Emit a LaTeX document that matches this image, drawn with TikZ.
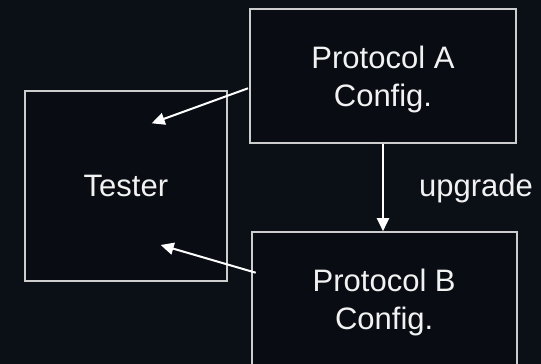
\documentclass[tikz,border=0pt]{standalone}
\usepackage{fontspec}
\setmainfont{Liberation Sans}
\usetikzlibrary{arrows.meta,calc}

\definecolor{bgdark}{RGB}{11,16,23}
\definecolor{boxfill}{RGB}{9,13,19}
\definecolor{edgegray}{RGB}{205,205,205}
\definecolor{inkwhite}{RGB}{242,242,242}

% two centred lines, drawn a little lower while keeping their box size
\newcommand{\twolines}[2]{\raisebox{-3.5pt}[\height][\depth]{\begin{tabular}{@{}c@{}}#1\\#2\end{tabular}}}

\tikzset{
  panel/.style={draw=edgegray, line width=2pt, fill=boxfill, text=inkwhite,
    align=center, inner sep=0pt, font=\fontsize{31}{38}\selectfont},
  link/.style={draw=white, line width=2pt,
    -{Triangle[length=13pt,width=12pt]}},
  caption/.style={text=inkwhite, inner sep=0pt, font=\fontsize{31}{38}\selectfont}
}

\begin{document}
\begin{tikzpicture}[x=1pt, y=-1pt]
  % canvas
  \fill[bgdark] (0,0) rectangle (541,364);
  \useasboundingbox (0,0) rectangle (541,364);

  % boxes
  \node[panel, minimum width=201.7pt, minimum height=190.3pt] (tester) at (125.85,185.85) {Tester};
  \node[panel, minimum width=266pt, minimum height=133.4pt] (pa) at (383,76) {\twolines{Protocol A}{Config.}};
  \node[panel, minimum width=265pt, minimum height=134pt] (pb) at (384.2,299.2) {\twolines{Protocol B}{Config.}};

  % arrow targets inside the tester
  \coordinate (hitA) at ($(tester.center)+(25.85,-62.55)$);
  \coordinate (hitB) at ($(tester.center)+(34.85,59.15)$);

  % connectors
  \draw[link] ($(pa.west)+(-1,12.3)$) -- (hitA);
  \draw[link] ($(pb.west)+(5,-26.5)$) -- (hitB);
  \draw[link] (pa.south) -- (pa.south |- pb.north);

  \node[caption, anchor=base west] (up) at (419,196.7) {upgrade};
\end{tikzpicture}
\end{document}
